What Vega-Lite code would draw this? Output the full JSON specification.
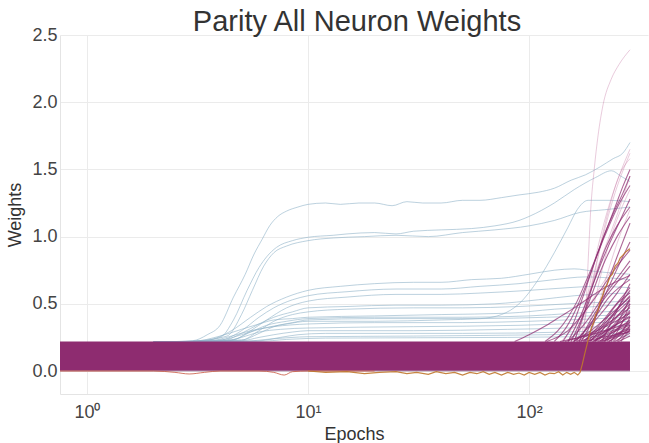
{
"$schema": "https://vega.github.io/schema/vega-lite/v6.json",
"width": 588, "height": 359,
"autosize": "none",
"padding": {"left": 60, "top": 35, "right": 1, "bottom": 49},
"background": "white",
"title": {"text": "Parity All Neuron Weights", "fontSize": 29, "font": "Liberation Sans", "fontWeight": "normal", "color": "#333333", "anchor": "middle", "offset": -11, "dx": 3},
"config": {"view": {"stroke": null}, "axis": {"labelFont": "Liberation Sans", "titleFont": "Liberation Sans", "labelFontSize": 18, "titleFontSize": 18, "labelColor": "#444444", "titleColor": "#333333", "titleFontWeight": "normal", "gridColor": "#ebebeb", "domainColor": "#e4e4e4", "ticks": false}},
"datasets": {
"band": [{"x": 0.755, "y": 0, "y2": 0.22}, {"x": 10, "y": 0, "y2": 0.22}, {"x": 100, "y": 0, "y2": 0.22}, {"x": 286, "y": 0, "y2": 0.22}],
"blue": [
{"g":"b1","x":2,"y":0.215},{"g":"b1","x":3,"y":0.225},{"g":"b1","x":3.5,"y":0.27},{"g":"b1","x":4,"y":0.34},{"g":"b1","x":4.6,"y":0.55},{"g":"b1","x":5.2,"y":0.72},{"g":"b1","x":5.7,"y":0.87},{"g":"b1","x":6.2,"y":0.98},{"g":"b1","x":6.7,"y":1.08},{"g":"b1","x":7.3,"y":1.15},{"g":"b1","x":8,"y":1.19},{"g":"b1","x":9,"y":1.22},{"g":"b1","x":10,"y":1.24},{"g":"b1","x":12,"y":1.25},{"g":"b1","x":14,"y":1.24},{"g":"b1","x":17,"y":1.25},{"g":"b1","x":20,"y":1.25},{"g":"b1","x":24,"y":1.23},{"g":"b1","x":28,"y":1.26},{"g":"b1","x":33,"y":1.25},{"g":"b1","x":40,"y":1.25},{"g":"b1","x":50,"y":1.27},{"g":"b1","x":60,"y":1.27},{"g":"b1","x":75,"y":1.29},{"g":"b1","x":90,"y":1.31},{"g":"b1","x":110,"y":1.33},{"g":"b1","x":130,"y":1.36},{"g":"b1","x":155,"y":1.42},{"g":"b1","x":180,"y":1.46},{"g":"b1","x":210,"y":1.52},{"g":"b1","x":240,"y":1.58},{"g":"b1","x":265,"y":1.62},{"g":"b1","x":286,"y":1.7},
{"g":"b2","x":2,"y":0.215},{"g":"b2","x":3,"y":0.22},{"g":"b2","x":4,"y":0.25},{"g":"b2","x":4.6,"y":0.38},{"g":"b2","x":5.3,"y":0.6},{"g":"b2","x":6,"y":0.77},{"g":"b2","x":6.5,"y":0.85},{"g":"b2","x":7.2,"y":0.92},{"g":"b2","x":8.5,"y":0.97},{"g":"b2","x":10,"y":0.995},{"g":"b2","x":13,"y":1.01},{"g":"b2","x":15,"y":1.02},{"g":"b2","x":20,"y":1.03},{"g":"b2","x":25,"y":1.02},{"g":"b2","x":30,"y":1.04},{"g":"b2","x":40,"y":1.05},{"g":"b2","x":55,"y":1.06},{"g":"b2","x":70,"y":1.08},{"g":"b2","x":90,"y":1.12},{"g":"b2","x":100,"y":1.15},{"g":"b2","x":130,"y":1.25},{"g":"b2","x":160,"y":1.35},{"g":"b2","x":200,"y":1.44},{"g":"b2","x":236,"y":1.49},{"g":"b2","x":260,"y":1.45},{"g":"b2","x":286,"y":1.41},
{"g":"b3","x":2,"y":0.215},{"g":"b3","x":3,"y":0.22},{"g":"b3","x":4.3,"y":0.26},{"g":"b3","x":5,"y":0.42},{"g":"b3","x":5.6,"y":0.6},{"g":"b3","x":6.3,"y":0.78},{"g":"b3","x":7,"y":0.88},{"g":"b3","x":8,"y":0.93},{"g":"b3","x":10,"y":0.97},{"g":"b3","x":13,"y":0.99},{"g":"b3","x":18,"y":1.0},{"g":"b3","x":25,"y":1.01},{"g":"b3","x":35,"y":1.0},{"g":"b3","x":50,"y":1.03},{"g":"b3","x":70,"y":1.05},{"g":"b3","x":100,"y":1.08},{"g":"b3","x":130,"y":1.12},{"g":"b3","x":170,"y":1.18},{"g":"b3","x":220,"y":1.2},{"g":"b3","x":286,"y":1.22},
{"g":"b4","x":2,"y":0.215},{"g":"b4","x":3.5,"y":0.23},{"g":"b4","x":4.5,"y":0.3},{"g":"b4","x":5.5,"y":0.4},{"g":"b4","x":6.5,"y":0.48},{"g":"b4","x":8,"y":0.55},{"g":"b4","x":10,"y":0.6},{"g":"b4","x":14,"y":0.63},{"g":"b4","x":20,"y":0.65},{"g":"b4","x":30,"y":0.66},{"g":"b4","x":40,"y":0.66},{"g":"b4","x":55,"y":0.68},{"g":"b4","x":75,"y":0.69},{"g":"b4","x":100,"y":0.72},{"g":"b4","x":130,"y":0.75},{"g":"b4","x":160,"y":0.76},{"g":"b4","x":200,"y":0.74},{"g":"b4","x":286,"y":0.72},
{"g":"b5","x":2,"y":0.215},{"g":"b5","x":4,"y":0.23},{"g":"b5","x":5,"y":0.3},{"g":"b5","x":6,"y":0.4},{"g":"b5","x":7,"y":0.47},{"g":"b5","x":8.5,"y":0.53},{"g":"b5","x":10,"y":0.56},{"g":"b5","x":15,"y":0.59},{"g":"b5","x":25,"y":0.61},{"g":"b5","x":40,"y":0.61},{"g":"b5","x":60,"y":0.63},{"g":"b5","x":90,"y":0.65},{"g":"b5","x":130,"y":0.68},{"g":"b5","x":180,"y":0.7},{"g":"b5","x":286,"y":0.68},
{"g":"b6","x":2,"y":0.215},{"g":"b6","x":4.5,"y":0.23},{"g":"b6","x":5.5,"y":0.3},{"g":"b6","x":6.5,"y":0.38},{"g":"b6","x":8,"y":0.47},{"g":"b6","x":10,"y":0.52},{"g":"b6","x":15,"y":0.55},{"g":"b6","x":25,"y":0.57},{"g":"b6","x":40,"y":0.57},{"g":"b6","x":60,"y":0.58},{"g":"b6","x":100,"y":0.6},{"g":"b6","x":150,"y":0.62},{"g":"b6","x":200,"y":0.63},{"g":"b6","x":286,"y":0.62},
{"g":"b7","x":2,"y":0.215},{"g":"b7","x":4,"y":0.22},{"g":"b7","x":5,"y":0.28},{"g":"b7","x":6,"y":0.35},{"g":"b7","x":7,"y":0.4},{"g":"b7","x":8.5,"y":0.44},{"g":"b7","x":10,"y":0.47},{"g":"b7","x":15,"y":0.48},{"g":"b7","x":25,"y":0.49},{"g":"b7","x":40,"y":0.49},{"g":"b7","x":70,"y":0.5},{"g":"b7","x":110,"y":0.53},{"g":"b7","x":160,"y":0.56},{"g":"b7","x":286,"y":0.58},
{"g":"b8","x":2,"y":0.215},{"g":"b8","x":5,"y":0.23},{"g":"b8","x":6,"y":0.3},{"g":"b8","x":7,"y":0.37},{"g":"b8","x":8.5,"y":0.42},{"g":"b8","x":10,"y":0.44},{"g":"b8","x":15,"y":0.46},{"g":"b8","x":30,"y":0.47},{"g":"b8","x":50,"y":0.47},{"g":"b8","x":90,"y":0.48},{"g":"b8","x":150,"y":0.5},{"g":"b8","x":286,"y":0.52},
{"g":"b9","x":2,"y":0.215},{"g":"b9","x":3,"y":0.22},{"g":"b9","x":4,"y":0.26},{"g":"b9","x":5,"y":0.31},{"g":"b9","x":6,"y":0.35},{"g":"b9","x":7,"y":0.38},{"g":"b9","x":8.5,"y":0.39},{"g":"b9","x":10,"y":0.4},{"g":"b9","x":20,"y":0.41},{"g":"b9","x":40,"y":0.42},{"g":"b9","x":80,"y":0.43},{"g":"b9","x":130,"y":0.46},{"g":"b9","x":200,"y":0.48},{"g":"b9","x":286,"y":0.5},
{"g":"b10","x":2,"y":0.215},{"g":"b10","x":4.5,"y":0.23},{"g":"b10","x":5.5,"y":0.29},{"g":"b10","x":6.5,"y":0.34},{"g":"b10","x":8,"y":0.37},{"g":"b10","x":10,"y":0.39},{"g":"b10","x":20,"y":0.4},{"g":"b10","x":50,"y":0.4},{"g":"b10","x":100,"y":0.41},{"g":"b10","x":160,"y":0.43},{"g":"b10","x":286,"y":0.45},
{"g":"b11","x":2,"y":0.215},{"g":"b11","x":5,"y":0.23},{"g":"b11","x":6,"y":0.28},{"g":"b11","x":7,"y":0.33},{"g":"b11","x":8.5,"y":0.36},{"g":"b11","x":10,"y":0.38},{"g":"b11","x":20,"y":0.39},{"g":"b11","x":60,"y":0.39},{"g":"b11","x":120,"y":0.4},{"g":"b11","x":286,"y":0.42},
{"g":"b12","x":2,"y":0.215},{"g":"b12","x":3.5,"y":0.22},{"g":"b12","x":4.5,"y":0.26},{"g":"b12","x":5.5,"y":0.3},{"g":"b12","x":7,"y":0.33},{"g":"b12","x":10,"y":0.35},{"g":"b12","x":20,"y":0.36},{"g":"b12","x":50,"y":0.36},{"g":"b12","x":100,"y":0.37},{"g":"b12","x":286,"y":0.4},
{"g":"b13","x":2,"y":0.215},{"g":"b13","x":5,"y":0.225},{"g":"b13","x":6,"y":0.25},{"g":"b13","x":7,"y":0.27},{"g":"b13","x":8.5,"y":0.29},{"g":"b13","x":10,"y":0.3},{"g":"b13","x":30,"y":0.3},{"g":"b13","x":80,"y":0.31},{"g":"b13","x":150,"y":0.32},{"g":"b13","x":286,"y":0.34},
{"g":"b14","x":2,"y":0.215},{"g":"b14","x":6,"y":0.225},{"g":"b14","x":7.5,"y":0.25},{"g":"b14","x":9,"y":0.27},{"g":"b14","x":12,"y":0.28},{"g":"b14","x":50,"y":0.28},{"g":"b14","x":150,"y":0.29},{"g":"b14","x":286,"y":0.31},
{"g":"b15","x":2,"y":0.215},{"g":"b15","x":5,"y":0.22},{"g":"b15","x":7,"y":0.24},{"g":"b15","x":10,"y":0.255},{"g":"b15","x":30,"y":0.26},{"g":"b15","x":120,"y":0.27},{"g":"b15","x":286,"y":0.28},
{"g":"b16","x":2,"y":0.215},{"g":"b16","x":4,"y":0.23},{"g":"b16","x":5,"y":0.27},{"g":"b16","x":6,"y":0.31},{"g":"b16","x":8,"y":0.35},{"g":"b16","x":10,"y":0.37},{"g":"b16","x":20,"y":0.37},{"g":"b16","x":40,"y":0.38},{"g":"b16","x":60,"y":0.39},{"g":"b16","x":75,"y":0.42},{"g":"b16","x":90,"y":0.5},{"g":"b16","x":110,"y":0.68},{"g":"b16","x":130,"y":0.88},{"g":"b16","x":150,"y":1.07},{"g":"b16","x":165,"y":1.2},{"g":"b16","x":185,"y":1.27},{"g":"b16","x":230,"y":1.27},{"g":"b16","x":286,"y":1.26},
{"g":"b17","x":2,"y":0.215},{"g":"b17","x":6,"y":0.22},{"g":"b17","x":8,"y":0.235},{"g":"b17","x":12,"y":0.245},{"g":"b17","x":80,"y":0.25},{"g":"b17","x":286,"y":0.26},
{"g":"b18","x":2,"y":0.215},{"g":"b18","x":4,"y":0.22},{"g":"b18","x":5,"y":0.25},{"g":"b18","x":6,"y":0.29},{"g":"b18","x":7.5,"y":0.31},{"g":"b18","x":10,"y":0.32},{"g":"b18","x":30,"y":0.33},{"g":"b18","x":90,"y":0.34},{"g":"b18","x":200,"y":0.36},{"g":"b18","x":286,"y":0.37}
],
"mag": [
{"g":"m1","x":86,"y":0.22},{"g":"m1","x":100,"y":0.27},{"g":"m1","x":120,"y":0.34},{"g":"m1","x":140,"y":0.41},{"g":"m1","x":160,"y":0.47},{"g":"m1","x":185,"y":0.54},{"g":"m1","x":210,"y":0.6},{"g":"m1","x":245,"y":0.66},{"g":"m1","x":286,"y":0.71},
{"g":"m2","x":118,"y":0.22},{"g":"m2","x":135,"y":0.3},{"g":"m2","x":150,"y":0.4},{"g":"m2","x":165,"y":0.52},{"g":"m2","x":180,"y":0.66},{"g":"m2","x":200,"y":0.84},{"g":"m2","x":220,"y":1.02},{"g":"m2","x":245,"y":1.22},{"g":"m2","x":265,"y":1.37},{"g":"m2","x":286,"y":1.5},
{"g":"m3","x":130,"y":0.22},{"g":"m3","x":148,"y":0.33},{"g":"m3","x":165,"y":0.48},{"g":"m3","x":185,"y":0.68},{"g":"m3","x":205,"y":0.88},{"g":"m3","x":230,"y":1.08},{"g":"m3","x":255,"y":1.24},{"g":"m3","x":286,"y":1.38},
{"g":"m4","x":142,"y":0.22},{"g":"m4","x":158,"y":0.35},{"g":"m4","x":175,"y":0.55},{"g":"m4","x":195,"y":0.78},{"g":"m4","x":215,"y":0.98},{"g":"m4","x":240,"y":1.17},{"g":"m4","x":265,"y":1.32},{"g":"m4","x":286,"y":1.45},
{"g":"m5","x":150,"y":0.22},{"g":"m5","x":170,"y":0.4},{"g":"m5","x":190,"y":0.6},{"g":"m5","x":215,"y":0.83},{"g":"m5","x":245,"y":1.04},{"g":"m5","x":286,"y":1.28},
{"g":"m6","x":160,"y":0.22},{"g":"m6","x":175,"y":0.4},{"g":"m6","x":195,"y":0.65},{"g":"m6","x":220,"y":0.9},{"g":"m6","x":250,"y":1.08},{"g":"m6","x":286,"y":1.22},
{"g":"m7","x":120,"y":0.22},{"g":"m7","x":150,"y":0.3},{"g":"m7","x":180,"y":0.45},{"g":"m7","x":210,"y":0.6},{"g":"m7","x":245,"y":0.76},{"g":"m7","x":286,"y":0.9},
{"g":"m8","x":150,"y":0.22},{"g":"m8","x":180,"y":0.36},{"g":"m8","x":210,"y":0.52},{"g":"m8","x":245,"y":0.67},{"g":"m8","x":286,"y":0.82},
{"g":"m9","x":168,"y":0.22},{"g":"m9","x":190,"y":0.38},{"g":"m9","x":215,"y":0.52},{"g":"m9","x":250,"y":0.66},{"g":"m9","x":286,"y":0.78},
{"g":"m10","x":178,"y":0.22},{"g":"m10","x":205,"y":0.33},{"g":"m10","x":240,"y":0.47},{"g":"m10","x":286,"y":0.62},
{"g":"m11","x":158,"y":0.22},{"g":"m11","x":190,"y":0.3},{"g":"m11","x":225,"y":0.4},{"g":"m11","x":286,"y":0.55},
{"g":"m12","x":188,"y":0.22},{"g":"m12","x":215,"y":0.31},{"g":"m12","x":250,"y":0.41},{"g":"m12","x":286,"y":0.5},
{"g":"m13","x":198,"y":0.22},{"g":"m13","x":230,"y":0.3},{"g":"m13","x":286,"y":0.45},
{"g":"m14","x":168,"y":0.22},{"g":"m14","x":205,"y":0.27},{"g":"m14","x":245,"y":0.34},{"g":"m14","x":286,"y":0.4},
{"g":"m15","x":208,"y":0.22},{"g":"m15","x":245,"y":0.3},{"g":"m15","x":286,"y":0.38},
{"g":"m16","x":138,"y":0.22},{"g":"m16","x":180,"y":0.26},{"g":"m16","x":230,"y":0.31},{"g":"m16","x":286,"y":0.36},
{"g":"m17","x":218,"y":0.22},{"g":"m17","x":286,"y":0.32},
{"g":"m18","x":228,"y":0.22},{"g":"m18","x":286,"y":0.3},
{"g":"m19","x":178,"y":0.22},{"g":"m19","x":230,"y":0.26},{"g":"m19","x":286,"y":0.29},
{"g":"m20","x":193,"y":0.22},{"g":"m20","x":240,"y":0.29},{"g":"m20","x":286,"y":0.34},
{"g":"m21","x":203,"y":0.22},{"g":"m21","x":250,"y":0.37},{"g":"m21","x":286,"y":0.48},
{"g":"m22","x":172,"y":0.22},{"g":"m22","x":195,"y":0.38},{"g":"m22","x":220,"y":0.56},{"g":"m22","x":250,"y":0.76},{"g":"m22","x":286,"y":0.96},
{"g":"m23","x":182,"y":0.22},{"g":"m23","x":200,"y":0.4},{"g":"m23","x":222,"y":0.62},{"g":"m23","x":250,"y":0.85},{"g":"m23","x":286,"y":1.1},
{"g":"m24","x":163,"y":0.22},{"g":"m24","x":195,"y":0.38},{"g":"m24","x":230,"y":0.55},{"g":"m24","x":286,"y":0.68},
{"g":"m25","x":243,"y":0.22},{"g":"m25","x":286,"y":0.28},
{"g":"m26","x":253,"y":0.22},{"g":"m26","x":286,"y":0.26},
{"g":"m27","x":198,"y":0.22},{"g":"m27","x":240,"y":0.42},{"g":"m27","x":286,"y":0.6},
{"g":"m28","x":213,"y":0.22},{"g":"m28","x":250,"y":0.45},{"g":"m28","x":286,"y":0.65},
{"g":"m29","x":185,"y":0.22},{"g":"m29","x":215,"y":0.35},{"g":"m29","x":250,"y":0.5},{"g":"m29","x":286,"y":0.58},
{"g":"m30","x":225,"y":0.22},{"g":"m30","x":255,"y":0.33},{"g":"m30","x":286,"y":0.44},
{"g":"m31","x":235,"y":0.22},{"g":"m31","x":260,"y":0.34},{"g":"m31","x":286,"y":0.5},
{"g":"m32","x":155,"y":0.22},{"g":"m32","x":185,"y":0.5},{"g":"m32","x":215,"y":0.78},{"g":"m32","x":250,"y":1.0},{"g":"m32","x":286,"y":1.15},
{"g":"m33","x":195,"y":0.22},{"g":"m33","x":225,"y":0.28},{"g":"m33","x":286,"y":0.35},
{"g":"m34","x":240,"y":0.22},{"g":"m34","x":265,"y":0.3},{"g":"m34","x":286,"y":0.4},
{"g":"m35","x":260,"y":0.22},{"g":"m35","x":286,"y":0.31},
{"g":"m36","x":210,"y":0.22},{"g":"m36","x":240,"y":0.25},{"g":"m36","x":286,"y":0.3},
{"g":"m37","x":145,"y":0.22},{"g":"m37","x":190,"y":0.28},{"g":"m37","x":240,"y":0.36},{"g":"m37","x":286,"y":0.43},
{"g":"m38","x":165,"y":0.22},{"g":"m38","x":210,"y":0.33},{"g":"m38","x":250,"y":0.44},{"g":"m38","x":286,"y":0.53},
{"g":"m39","x":185,"y":0.22},{"g":"m39","x":225,"y":0.3},{"g":"m39","x":286,"y":0.41},
{"g":"m40","x":200,"y":0.22},{"g":"m40","x":235,"y":0.35},{"g":"m40","x":286,"y":0.52},
{"g":"m41","x":215,"y":0.22},{"g":"m41","x":250,"y":0.28},{"g":"m41","x":286,"y":0.33},
{"g":"m42","x":175,"y":0.22},{"g":"m42","x":220,"y":0.34},{"g":"m42","x":286,"y":0.47},
{"g":"m43","x":230,"y":0.22},{"g":"m43","x":260,"y":0.29},{"g":"m43","x":286,"y":0.37},
{"g":"m44","x":190,"y":0.22},{"g":"m44","x":230,"y":0.39},{"g":"m44","x":286,"y":0.56},
{"g":"m45","x":250,"y":0.22},{"g":"m45","x":270,"y":0.28},{"g":"m45","x":286,"y":0.34},
{"g":"m46","x":205,"y":0.22},{"g":"m46","x":245,"y":0.27},{"g":"m46","x":286,"y":0.31},
{"g":"m47","x":160,"y":0.22},{"g":"m47","x":205,"y":0.4},{"g":"m47","x":250,"y":0.58},{"g":"m47","x":286,"y":0.72},
{"g":"m48","x":220,"y":0.22},{"g":"m48","x":255,"y":0.38},{"g":"m48","x":286,"y":0.54}
],
"pink": [
{"g":"p1","x":175,"y":0.22},{"g":"p1","x":181,"y":0.5},{"g":"p1","x":186,"y":0.9},{"g":"p1","x":190,"y":1.2},{"g":"p1","x":197,"y":1.5},{"g":"p1","x":205,"y":1.75},{"g":"p1","x":216,"y":1.98},{"g":"p1","x":235,"y":2.17},{"g":"p1","x":255,"y":2.28},{"g":"p1","x":286,"y":2.39},
{"g":"p2","x":160,"y":0.22},{"g":"p2","x":180,"y":0.5},{"g":"p2","x":200,"y":0.85},{"g":"p2","x":225,"y":1.18},{"g":"p2","x":255,"y":1.45},{"g":"p2","x":286,"y":1.65},
{"g":"p3","x":170,"y":0.22},{"g":"p3","x":188,"y":0.55},{"g":"p3","x":210,"y":0.92},{"g":"p3","x":240,"y":1.28},{"g":"p3","x":286,"y":1.62},
{"g":"p4","x":150,"y":0.22},{"g":"p4","x":175,"y":0.45},{"g":"p4","x":205,"y":0.78},{"g":"p4","x":245,"y":1.12},{"g":"p4","x":286,"y":1.45},
{"g":"p5","x":188,"y":0.22},{"g":"p5","x":215,"y":0.6},{"g":"p5","x":250,"y":0.95},{"g":"p5","x":286,"y":1.2},
{"g":"p6","x":140,"y":0.22},{"g":"p6","x":175,"y":0.42},{"g":"p6","x":225,"y":0.7},{"g":"p6","x":286,"y":0.92},
{"g":"p7","x":165,"y":0.22},{"g":"p7","x":195,"y":0.7},{"g":"p7","x":225,"y":1.15},{"g":"p7","x":255,"y":1.45},{"g":"p7","x":286,"y":1.58},
{"g":"p8","x":180,"y":0.22},{"g":"p8","x":200,"y":0.55},{"g":"p8","x":230,"y":0.95},{"g":"p8","x":286,"y":1.35}
],
"red": [
{"x":0.755,"y":0.0},{"x":2,"y":0.0},{"x":2.5,"y":-0.01},{"x":2.9,"y":-0.022},{"x":3.4,"y":-0.01},{"x":4,"y":0.0},{"x":6,"y":0.0},{"x":7,"y":-0.01},{"x":7.8,"y":-0.03},{"x":8.5,"y":-0.005},{"x":10,"y":0.0},{"x":20,"y":0.0}
],
"orange": [
{"x":10,"y":0.0},{"x":12,"y":-0.01},{"x":15,"y":-0.005},{"x":18,"y":-0.02},{"x":21,"y":-0.01},{"x":25,"y":-0.005},{"x":28,"y":-0.02},{"x":31,"y":-0.01},{"x":35,"y":-0.025},{"x":38,"y":-0.005},{"x":42,"y":-0.02},{"x":46,"y":-0.01},{"x":50,"y":-0.03},{"x":54,"y":-0.01},{"x":58,"y":-0.02},{"x":62,"y":-0.005},{"x":66,"y":-0.025},{"x":70,"y":-0.01},{"x":75,"y":-0.03},{"x":80,"y":-0.01},{"x":85,"y":-0.025},{"x":90,"y":-0.015},{"x":95,"y":-0.03},{"x":100,"y":-0.01},{"x":106,"y":-0.025},{"x":112,"y":-0.01},{"x":118,"y":-0.03},{"x":124,"y":-0.015},{"x":130,"y":-0.02},{"x":136,"y":-0.005},{"x":142,"y":-0.03},{"x":148,"y":-0.01},{"x":154,"y":-0.025},{"x":160,"y":-0.01},{"x":166,"y":-0.03},{"x":170,"y":-0.01},{"x":174,"y":0.05},{"x":178,"y":0.12},{"x":183,"y":0.2},{"x":188,"y":0.28},{"x":192,"y":0.33},{"x":196,"y":0.36},{"x":200,"y":0.42},{"x":205,"y":0.45},{"x":210,"y":0.52},{"x":215,"y":0.56},{"x":220,"y":0.62},{"x":225,"y":0.64},{"x":232,"y":0.7},{"x":238,"y":0.72},{"x":245,"y":0.78},{"x":252,"y":0.8},{"x":258,"y":0.84},{"x":265,"y":0.86},{"x":275,"y":0.89},{"x":286,"y":0.91}
]
},
"encoding": {
"x": {"field": "x", "type": "quantitative", "scale": {"type": "log", "domain": [0.755, 345], "nice": false}, "axis": {"title": "Epochs", "values": [1, 10, 100], "labelExpr": "datum.value == 1 ? '10⁰' : datum.value == 10 ? '10¹' : '10²'", "labelPadding": 9, "titlePadding": 4, "grid": true}},
"y": {"field": "y", "type": "quantitative", "scale": {"domain": [-0.171, 2.5], "nice": false, "zero": false}, "axis": {"title": "Weights", "values": [0, 0.5, 1, 1.5, 2, 2.5], "format": ".1f", "labelPadding": 3, "titlePadding": 7, "grid": true}}
},
"layer": [
{"data": {"name": "blue"}, "mark": {"type": "line", "color": "#8fb2c8", "strokeWidth": 1, "opacity": 0.6, "interpolate": "monotone"}, "encoding": {"detail": {"field": "g"}}},
{"data": {"name": "band"}, "mark": {"type": "area", "color": "#8e2c70", "opacity": 1, "line": {"color": "#b59ab0", "strokeWidth": 1}}, "encoding": {"y2": {"field": "y2"}}},
{"data": {"name": "red"}, "mark": {"type": "line", "color": "#c8553d", "strokeWidth": 1, "opacity": 0.8, "interpolate": "monotone"}, "encoding": {}},
{"data": {"name": "pink"}, "mark": {"type": "line", "color": "#c06a9c", "strokeWidth": 1, "opacity": 0.35, "interpolate": "monotone"}, "encoding": {"detail": {"field": "g"}}},
{"data": {"name": "mag"}, "mark": {"type": "line", "color": "#8e2c70", "strokeWidth": 1.1, "opacity": 0.72, "interpolate": "monotone"}, "encoding": {"detail": {"field": "g"}}},
{"data": {"name": "orange"}, "mark": {"type": "line", "color": "#c0782c", "strokeWidth": 1.2, "opacity": 0.9}, "encoding": {}}
]
}
